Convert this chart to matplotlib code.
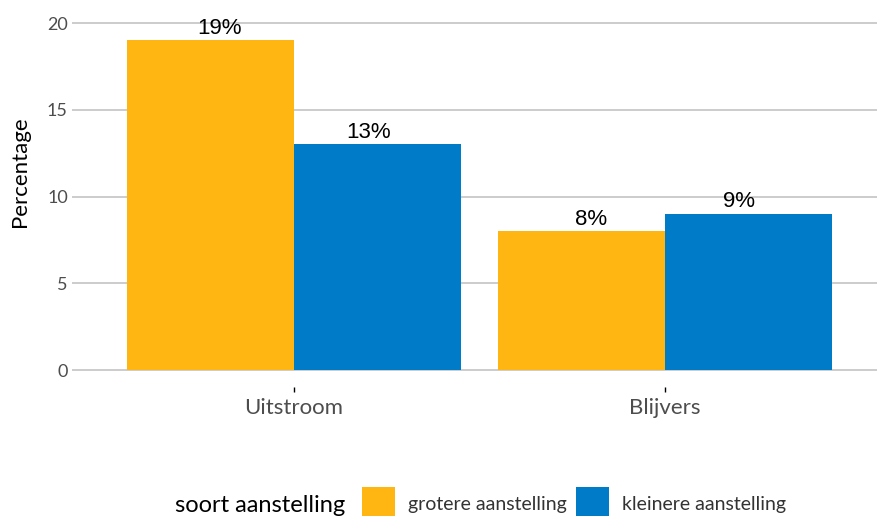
import matplotlib
matplotlib.use("Agg")
import matplotlib.pyplot as plt
import numpy as np

categories = ["Uitstroom", "Blijvers"]
series_names = ["grotere aanstelling", "kleinere aanstelling"]
grotere = [19, 8]
kleinere = [13, 9]
colors = ["#FFB612", "#007BC7"]
yticks = [0, 5, 10, 15, 20]

W, H = 878, 516
fig = plt.figure(figsize=(W / 100, H / 100), dpi=100)

# panel placement in pixels
left_px, right_px = 72, 878
top_px, bottom_px = 5, 386.5
ax = fig.add_axes([left_px / W, (H - bottom_px) / H,
                   (right_px - left_px) / W, (bottom_px - top_px) / H])

x = np.arange(len(categories))
bw = 0.45
bars_g = ax.bar(x - bw / 2, grotere, bw, color=colors[0], label=series_names[0], zorder=2)
bars_k = ax.bar(x + bw / 2, kleinere, bw, color=colors[1], label=series_names[1], zorder=2)

# value labels, dodged slightly narrower than the bars
label_dodge = 0.2
for offs, vals in ((-label_dodge, grotere), (label_dodge, kleinere)):
    for xi, v in zip(x, vals):
        ax.annotate(f"{v}%", (xi + offs, v),
                    xytext=(0, 1), textcoords="offset points",
                    ha="center", va="bottom", fontsize=16,
                    family=["Liberation Sans", "DejaVu Sans"], color="black", zorder=3)

ax.set_xlim(-0.5984, 1.574)
ax.set_ylim(-0.951, 21.04)
ax.set_yticks(yticks)
ax.set_xticks(x)
ax.set_xticklabels(categories)

ax.grid(axis="y", color="#cccccc", linewidth=1.4, zorder=0)
ax.grid(axis="x", visible=False)
for s in ax.spines.values():
    s.set_visible(False)

ax.tick_params(axis="y", length=0, pad=3, labelsize=13, labelcolor="#4d4d4d")
ax.tick_params(axis="x", length=3.6, width=1, color="black", pad=4.5,
               labelsize=16, labelcolor="#4d4d4d")
for lab in ax.get_xticklabels() + ax.get_yticklabels():
    lab.set_family(["Lato", "DejaVu Sans"])

fig.text(20 / W, (H - 172) / H, "Percentage", rotation=90, ha="center", va="center",
         fontsize=16, family=["Lato", "DejaVu Sans"], color="black")

# legend along the bottom edge
fig.text(175 / W, (H - 505) / H, "soort aanstelling", ha="left", va="center",
         fontsize=17, family=["Lato", "DejaVu Sans"], color="black")
fs = 14
fs_px = fs * 100 / 72
key = 33
hh = (key - 0.245 * fs_px) / (0.65 * fs_px)
leg = fig.legend(handles=[bars_g, bars_k], labels=series_names, ncol=2,
                 loc="upper left", bbox_to_anchor=(362 / W, (H - 487) / H),
                 frameon=False, borderpad=0, borderaxespad=0,
                 handlelength=key / fs_px, handleheight=hh,
                 handletextpad=0.66, columnspacing=0.5,
                 prop={"family": ["Lato", "DejaVu Sans"], "size": fs})
for t in leg.get_texts():
    t.set_color("#333333")

fig.savefig("out.png", dpi=100)
